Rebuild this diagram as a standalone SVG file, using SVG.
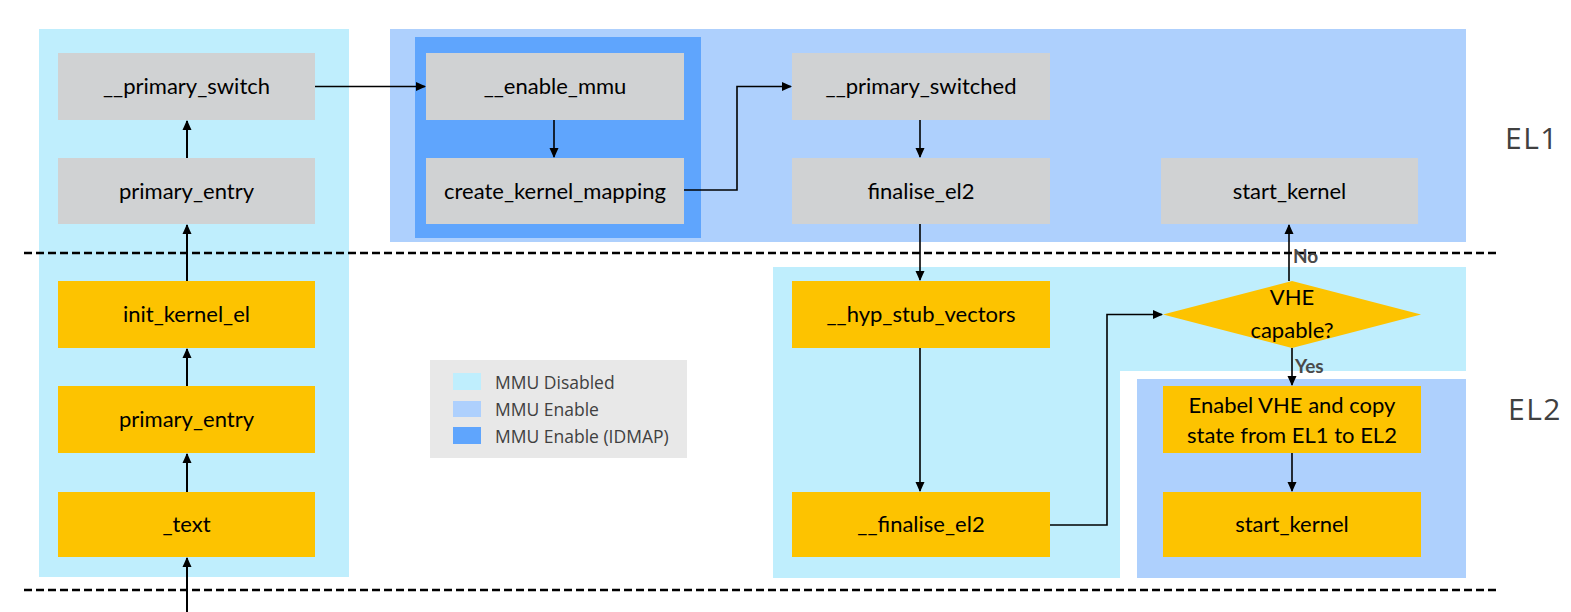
<svg xmlns="http://www.w3.org/2000/svg" width="1571" height="612" viewBox="0 0 1571 612">
<style>
.t{font-family:Lato,"Liberation Sans",sans-serif;font-size:22px;fill:#000;text-anchor:middle}
.gray{fill:#d0d2d3}
.yel{fill:#fdc300}
.cyan{fill:#bfeefd}
.lb{fill:#aed0fd}
.db{fill:#5fa5fd}
.c{stroke:#000;stroke-width:2;fill:none}
.c2{stroke:#000;stroke-width:1.6;fill:none}
.dash{stroke:#000;stroke-width:2.5;stroke-dasharray:8 4;fill:none}
.lg{font-family:"Open Sans","Liberation Sans",sans-serif;font-size:17.5px;fill:#404040}
.el{font-family:"Open Sans","Liberation Sans",sans-serif;font-size:30px;letter-spacing:1.5px;fill:#404040}
.lab{font-family:Lato,"Liberation Sans",sans-serif;font-size:19px;font-weight:bold;fill:#4a4a4a}
</style>
<defs>
<marker id="ah" markerWidth="10" markerHeight="10" refX="9" refY="5" orient="auto" markerUnits="userSpaceOnUse">
<path d="M0,0.5 L10,5 L0,9.5 Z" fill="#000"/>
</marker>
</defs>
<g id="panels">
<rect class="cyan" x="39" y="29" width="310" height="548"/>
<rect class="lb" x="390" y="29" width="1076" height="213"/>
<rect class="db" x="415" y="37" width="286" height="201"/>
<path class="cyan" d="M773,267 H1466 V371 H1120 V578 H773 Z"/>
<rect class="lb" x="1137" y="379" width="329" height="199"/>
</g>
<g id="dividers">
<line class="dash" x1="24" y1="253" x2="1496" y2="253"/>
<line class="dash" x1="24" y1="590" x2="1497" y2="590"/>
</g>
<g id="legend">
<rect x="430" y="360" width="257" height="98" fill="#e8e8e8"/>
<rect class="cyan" x="453" y="373" width="28" height="17"/>
<rect class="lb" x="453" y="401" width="28" height="16"/>
<rect class="db" x="453" y="427" width="28" height="17"/>
<text class="lg" x="495" y="389">MMU Disabled</text>
<text class="lg" x="495" y="416">MMU Enable</text>
<text class="lg" x="495" y="443">MMU Enable (IDMAP)</text>
</g>
<g id="levels">
<text class="el" x="1505" y="149">EL1</text>
<text class="el" x="1508" y="420">EL2</text>
</g>
<g id="n_primary_switch"><rect class="gray" x="58" y="53" width="257" height="67"/><text class="t" x="186.5" y="94">__primary_switch</text></g>
<g id="n_primary_entry_el1"><rect class="gray" x="58" y="158" width="257" height="66"/><text class="t" x="186.5" y="199">primary_entry</text></g>
<g id="n_init_kernel_el"><rect class="yel" x="58" y="281" width="257" height="67"/><text class="t" x="186.5" y="322">init_kernel_el</text></g>
<g id="n_primary_entry_el2"><rect class="yel" x="58" y="386" width="257" height="67"/><text class="t" x="186.5" y="427">primary_entry</text></g>
<g id="n_text"><rect class="yel" x="58" y="492" width="257" height="65"/><text class="t" x="186.5" y="532">_text</text></g>
<g id="n_enable_mmu"><rect class="gray" x="426" y="53" width="258" height="67"/><text class="t" x="555" y="94">__enable_mmu</text></g>
<g id="n_create_kernel_mapping"><rect class="gray" x="426" y="158" width="258" height="66"/><text class="t" x="555" y="199">create_kernel_mapping</text></g>
<g id="n_primary_switched"><rect class="gray" x="792" y="53" width="258" height="67"/><text class="t" x="921" y="94">__primary_switched</text></g>
<g id="n_finalise_el2"><rect class="gray" x="792" y="158" width="258" height="66"/><text class="t" x="921" y="199">finalise_el2</text></g>
<g id="n_start_kernel_el1"><rect class="gray" x="1161" y="158" width="257" height="66"/><text class="t" x="1289.5" y="199">start_kernel</text></g>
<g id="n_hyp_stub_vectors"><rect class="yel" x="792" y="281" width="258" height="67"/><text class="t" x="921" y="322">__hyp_stub_vectors</text></g>
<g id="n_finalise_el2_b"><rect class="yel" x="792" y="492" width="258" height="65"/><text class="t" x="921" y="532">__finalise_el2</text></g>
<g id="n_vhe_capable"><polygon class="yel" points="1163,314.5 1292,281 1421,314.5 1292,348"/><text class="t" x="1292" y="305">VHE</text><text class="t" x="1292" y="338">capable?</text></g>
<g id="n_enable_vhe"><rect class="yel" x="1163" y="386" width="258" height="67"/><text class="t" x="1292" y="413">Enabel VHE and copy</text><text class="t" x="1292" y="443">state from EL1 to EL2</text></g>
<g id="n_start_kernel_el2"><rect class="yel" x="1163" y="492" width="258" height="65"/><text class="t" x="1292" y="532">start_kernel</text></g>
<g id="connectors">
<line class="c" x1="187" y1="612" x2="187" y2="558" marker-end="url(#ah)"/>
<line class="c" x1="187" y1="492" x2="187" y2="454" marker-end="url(#ah)"/>
<line class="c" x1="187" y1="386" x2="187" y2="349" marker-end="url(#ah)"/>
<line class="c" x1="187" y1="281" x2="187" y2="225" marker-end="url(#ah)"/>
<line class="c" x1="187" y1="158" x2="187" y2="121" marker-end="url(#ah)"/>
<line class="c2" x1="315" y1="86.5" x2="425" y2="86.5" marker-end="url(#ah)"/>
<line class="c2" x1="554" y1="120" x2="554" y2="157" marker-end="url(#ah)"/>
<polyline class="c2" points="684,190 737,190 737,86.5 791,86.5" marker-end="url(#ah)"/>
<line class="c2" x1="920" y1="120" x2="920" y2="157" marker-end="url(#ah)"/>
<line class="c2" x1="920" y1="224" x2="920" y2="280" marker-end="url(#ah)"/>
<line class="c2" x1="920" y1="348" x2="920" y2="491" marker-end="url(#ah)"/>
<polyline class="c2" points="1050,525 1107,525 1107,314.5 1162,314.5" marker-end="url(#ah)"/>
<line class="c2" x1="1289" y1="281" x2="1289" y2="225" marker-end="url(#ah)"/>
<line class="c2" x1="1292" y1="348" x2="1292" y2="385" marker-end="url(#ah)"/>
<line class="c2" x1="1292" y1="453" x2="1292" y2="491" marker-end="url(#ah)"/>
<text class="lab" x="1293" y="263">No</text>
<text class="lab" x="1295" y="373">Yes</text>
</g>
</svg>
